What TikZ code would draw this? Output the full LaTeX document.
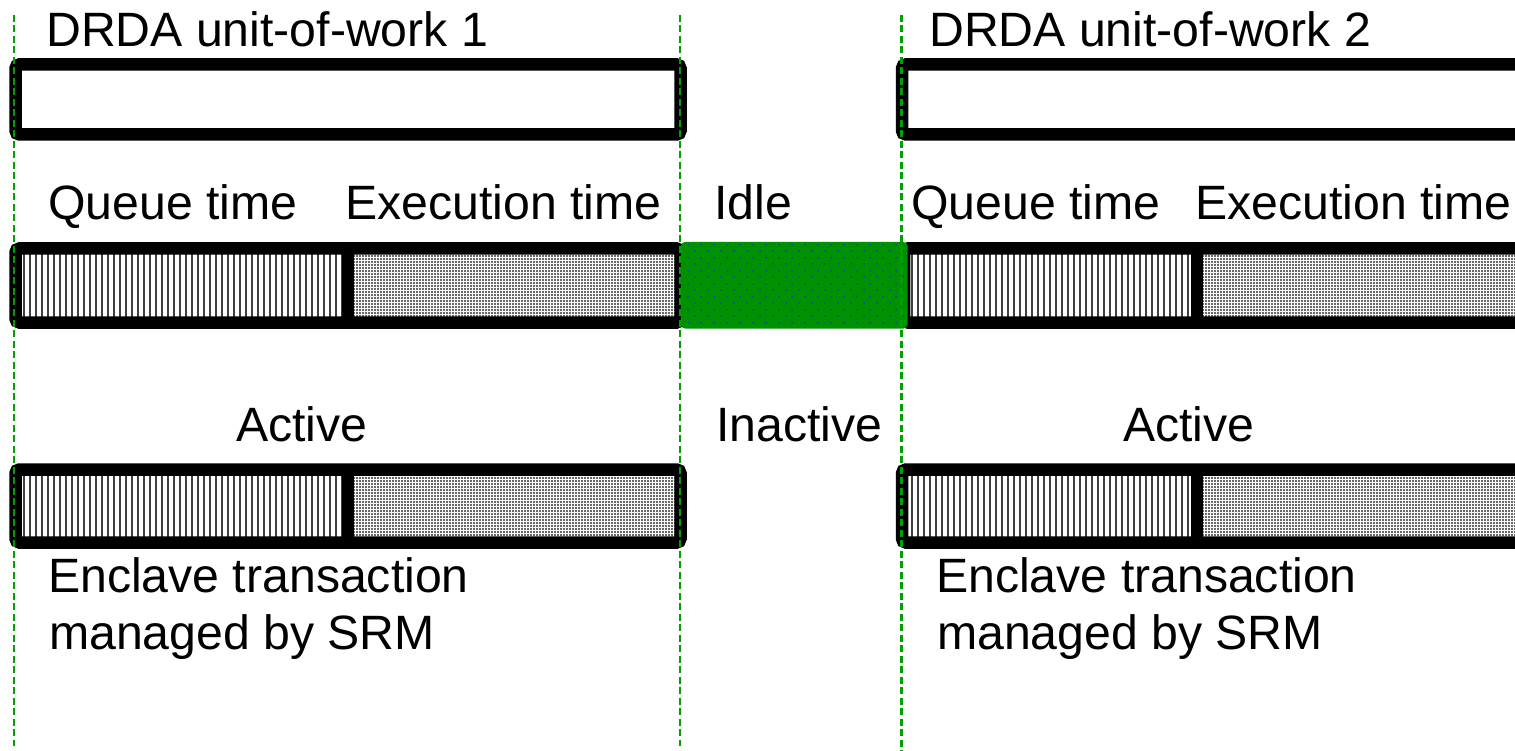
\documentclass[tikz,border=0pt]{standalone}
\usepackage{fontspec}
\setmainfont{Liberation Sans}
\usetikzlibrary{patterns.meta}
\definecolor{idlegreen}{RGB}{0,145,0}
\definecolor{guidegreen}{RGB}{0,160,0}
\definecolor{dotblue}{RGB}{20,40,230}
\tikzset{
  frame/.style={draw=black,line width=12.5pt,rounded corners=4pt},
  divider/.style={draw=black,line width=11.5pt},
  queuefill/.style={fill=white,postaction={pattern={Lines[angle=90,distance=6pt,line width=2pt]},pattern color=black!75}},
  execfill/.style={fill=white,postaction={pattern={Dots[distance=3pt,radius=1.05pt]},pattern color=black!80}},
  guide/.style={draw=guidegreen,line width=1.6pt,dash pattern=on 7pt off 3.5pt},
  guidethick/.style={draw=guidegreen,line width=3pt,dash pattern=on 7pt off 3.5pt},
  lbl/.style={inner sep=0pt,anchor=base west,font=\fontsize{48.2}{58}\selectfont}
}
\begin{document}
\begin{tikzpicture}[x=1pt,y=-1pt]
\useasboundingbox (0,0) rectangle (1515,751);
\clip (0,0) rectangle (1515,751);
% ---------- row 1: unit-of-work boxes
\draw[frame,fill=white] (15.5,64.5) rectangle (680.5,134.5);
\draw[frame,fill=white] (902,64.5) rectangle (1540,134.5);
% ---------- row 2
\path[queuefill] (15.5,248.5) rectangle (348,322.5);
\path[execfill] (348,248.5) rectangle (680.5,322.5);
\draw[frame] (15.5,248.5) rectangle (680.5,322.5);
\draw[divider] (348,248.5) -- (348,322.5);
\path[queuefill] (904,248.5) rectangle (1197,322.5);
\path[execfill] (1197,248.5) rectangle (1540,322.5);
\draw[frame] (904,248.5) rectangle (1540,322.5);
\draw[divider] (1197,248.5) -- (1197,322.5);
% idle (green)
\fill[idlegreen,rounded corners=4pt] (681,242) rectangle (907.5,328.5);
\path[pattern={Dots[distance=13pt,radius=0.9pt]},pattern color=dotblue] (684,245) rectangle (905,325);
\path[pattern={Dots[distance=13pt,radius=0.9pt,xshift=6.5pt,yshift=6.5pt]},pattern color=dotblue] (684,245) rectangle (905,325);
% ---------- row 3
\path[queuefill] (15.5,469.5) rectangle (348,542.5);
\path[execfill] (348,469.5) rectangle (680.5,542.5);
\draw[frame] (15.5,469.5) rectangle (680.5,542.5);
\draw[divider] (348,469.5) -- (348,542.5);
\path[queuefill] (902,469.5) rectangle (1197,542.5);
\path[execfill] (1197,469.5) rectangle (1540,542.5);
\draw[frame] (902,469.5) rectangle (1540,542.5);
\draw[divider] (1197,469.5) -- (1197,542.5);
% ---------- dashed guides
\coordinate (g1t) at (14,15);  \coordinate (g1b) at (14,746);
\coordinate (g2t) at (680,15); \coordinate (g2b) at (680,746);
\coordinate (g3t) at (901,15); \coordinate (g3b) at (901,751);
\draw[guide] (g1t) -- (g1b);
\draw[guide] (g2t) -- (g2b);
\draw[guidethick] (g3t) -- (g3b);
% ---------- labels
\node[lbl] (uow1) at (46,47) {DRDA unit-of-work 1};
\node[lbl] (uow2) at (929,47) {DRDA unit-of-work 2};
\node[lbl] (q1) at (48,220) {Queue time};
\node[lbl] (e1) at (345,220) {Execution time};
\node[lbl] (idle) at (714,220) {Idle};
\node[lbl] (q2) at (911,220) {Queue time};
\node[lbl] (e2) at (1195,220) {Execution time};
\node[lbl] (a1) at (236,441) {Active};
\node[lbl] (ina) at (716,441) {Inactive};
\node[lbl] (a2) at (1123,441) {Active};
\node[lbl] (en1) at (48,592) {Enclave transaction};
\node[lbl] (m1) at (49,649) {managed by SRM};
\node[lbl] (en2) at (936,592) {Enclave transaction};
\node[lbl] (m2) at (937,649) {managed by SRM};
\end{tikzpicture}
\end{document}
